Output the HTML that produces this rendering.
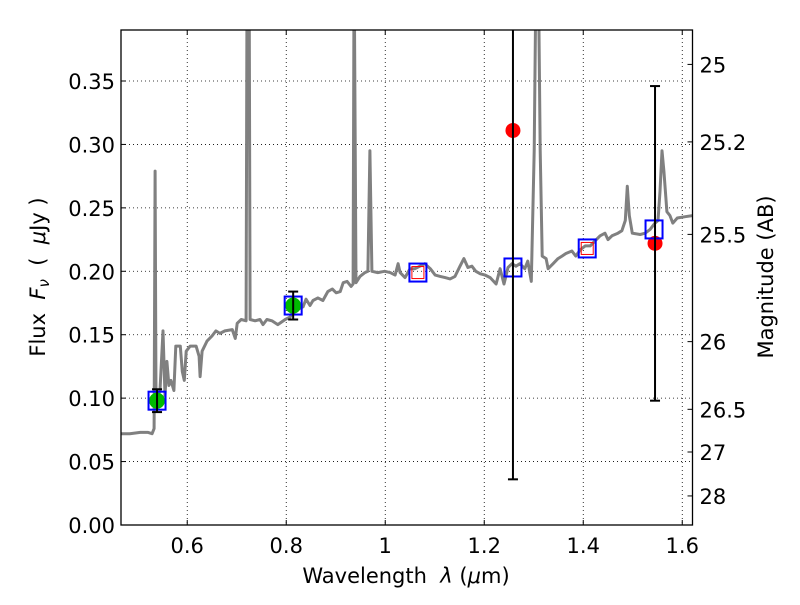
<!DOCTYPE html>
<html><head><meta charset="utf-8"><style>
html,body{margin:0;padding:0;background:#fff;}
svg text{font-family:"DejaVu Sans","Liberation Sans",sans-serif;white-space:pre;}
</style></head><body>
<svg id="chart" width="800" height="600" xmlns="http://www.w3.org/2000/svg" xml:space="preserve">
<defs><clipPath id="clip"><rect x="121" y="30" width="571.5" height="495"/></clipPath></defs>
<rect width="800" height="600" fill="#fff"/>
<g id="grid"></g>
<g id="plot" clip-path="url(#clip)"></g>
<rect x="121" y="30" width="571.5" height="495" fill="none" stroke="#000" stroke-width="1.3"/>
<g id="ticks"></g>
<text x="406" y="583" font-size="21" text-anchor="middle">Wavelength  <tspan font-style="italic">λ</tspan> (<tspan font-style="italic">μ</tspan>m)</text>
<text transform="translate(45,277) rotate(-90)" font-size="21" text-anchor="middle">Flux  <tspan font-style="italic">F<tspan font-size="15" dy="4">ν</tspan></tspan><tspan dy="-4">  (  </tspan><tspan font-style="italic">μ</tspan>Jy )</text>
<text transform="translate(773,277) rotate(-90)" font-size="21" text-anchor="middle">Magnitude (AB)</text>
</svg>
<script>
const specLam=[0.466,0.484,0.505,0.521,0.529,0.533,0.535,0.537,0.539,0.545,0.551,0.555,0.559,0.563,0.567,0.573,0.577,0.586,0.590,0.594,0.598,0.606,0.618,0.624,0.626,0.630,0.640,0.650,0.658,0.666,0.676,0.691,0.697,0.701,0.709,0.719,0.721,0.725,0.727,0.737,0.747,0.753,0.761,0.771,0.783,0.798,0.808,0.814,0.824,0.834,0.840,0.848,0.854,0.864,0.874,0.884,0.893,0.901,0.909,0.915,0.923,0.931,0.935,0.937,0.941,0.949,0.959,0.965,0.969,0.973,0.985,0.999,1.010,1.020,1.026,1.030,1.040,1.050,1.060,1.070,1.080,1.091,1.101,1.111,1.121,1.131,1.141,1.151,1.159,1.167,1.175,1.183,1.192,1.202,1.212,1.224,1.232,1.240,1.248,1.256,1.264,1.272,1.282,1.288,1.295,1.301,1.305,1.309,1.313,1.317,1.325,1.329,1.339,1.349,1.357,1.365,1.377,1.385,1.394,1.404,1.414,1.424,1.434,1.444,1.450,1.458,1.470,1.478,1.485,1.489,1.493,1.499,1.515,1.525,1.535,1.545,1.551,1.555,1.559,1.563,1.569,1.575,1.581,1.590,1.606,1.622];
const specFlux=[0.072,0.072,0.073,0.073,0.072,0.076,0.279,0.098,0.100,0.106,0.153,0.102,0.129,0.110,0.114,0.106,0.141,0.141,0.121,0.114,0.137,0.141,0.141,0.133,0.117,0.137,0.145,0.149,0.153,0.151,0.153,0.154,0.147,0.159,0.162,0.161,0.45,0.45,0.162,0.161,0.162,0.158,0.162,0.161,0.158,0.162,0.164,0.169,0.170,0.172,0.178,0.173,0.177,0.179,0.177,0.184,0.186,0.183,0.184,0.191,0.192,0.188,0.190,0.45,0.191,0.196,0.199,0.200,0.295,0.200,0.199,0.200,0.199,0.197,0.206,0.199,0.195,0.202,0.202,0.204,0.206,0.202,0.197,0.196,0.195,0.194,0.196,0.204,0.210,0.203,0.204,0.200,0.198,0.197,0.195,0.190,0.202,0.190,0.203,0.206,0.204,0.206,0.202,0.208,0.192,0.295,0.45,0.45,0.295,0.212,0.210,0.202,0.206,0.210,0.212,0.214,0.216,0.212,0.217,0.220,0.220,0.224,0.228,0.230,0.225,0.228,0.230,0.232,0.240,0.267,0.244,0.230,0.229,0.230,0.233,0.238,0.240,0.263,0.295,0.279,0.247,0.244,0.238,0.242,0.243,0.244];
const modelLam=[0.539,0.814,1.066,1.258,1.408,1.543];
const modelFlux=[0.098,0.173,0.199,0.203,0.218,0.233];
const detLam=[0.539,0.814];
const detFlux=[0.098,0.173];
const detErr=[0.009,0.011];
const upLam=[1.258,1.545];
const upFlux=[0.311,0.222];
const upErr=[0.275,0.124];
const redSqLam=[1.066,1.408];
const redSqFlux=[0.199,0.218];
const xTicks=[0.6,0.8,1.0,1.2,1.4,1.6];
const xTickLabels=["0.6","0.8","1","1.2","1.4","1.6"];
const yTicks=[0,0.05,0.10,0.15,0.20,0.25,0.30,0.35];
const yTickLabels=["0.00","0.05","0.10","0.15","0.20","0.25","0.30","0.35"];
const magTicks=[25,25.2,25.5,26,26.5,27,28];
const magTickLabels=["25","25.2","25.5","26","26.5","27","28"];

const NS="http://www.w3.org/2000/svg";
const X0=121,X1=692.5,Y0=525,Y1=30,LMIN=0.4662,LMAX=1.6207,FMIN=0,FMAX=0.3902;
function xs(l){return X0+(l-LMIN)/(LMAX-LMIN)*(X1-X0);}
function ys(f){return Y0-(f-FMIN)/(FMAX-FMIN)*(Y0-Y1);}
function magToFlux(m){return Math.pow(10,(23.9-m)/2.5);}
function mk(tag,attrs,parent){const e=document.createElementNS(NS,tag);for(const k in attrs)e.setAttribute(k,attrs[k]);parent.appendChild(e);return e;}
const grid=document.getElementById('grid'),plot=document.getElementById('plot'),ticks=document.getElementById('ticks');

xTicks.forEach((v,i)=>{const x=xs(v);
 let g=mk('line',{x1:x,x2:x,y1:Y1,y2:Y0,stroke:'#000','stroke-width':0.8,'stroke-dasharray':'1,3'},grid);
 
 
 mk('line',{x1:x,x2:x,y1:Y0,y2:Y0-5,stroke:'#000'},ticks);
 mk('line',{x1:x,x2:x,y1:Y1,y2:Y1+5,stroke:'#000'},ticks);
 let t=mk('text',{x:x,y:Y0+28,'font-size':21,'text-anchor':'middle'},ticks);t.textContent=xTickLabels[i];
 
 
});
yTicks.forEach((v,i)=>{const y=ys(v);
 let g=mk('line',{x1:X0,x2:X1,y1:y,y2:y,stroke:'#000','stroke-width':0.8,'stroke-dasharray':'1,3'},grid);
 
 
 mk('line',{x1:X0,x2:X0+5,y1:y,y2:y,stroke:'#000'},ticks);
 let t=mk('text',{x:X0-6,y:y+8,'font-size':21,'text-anchor':'end'},ticks);t.textContent=yTickLabels[i];
 
 
});
magTicks.forEach((m,i)=>{const y=ys(magToFlux(m));
 mk('line',{x1:X1,x2:X1-5,y1:y,y2:y,stroke:'#000'},ticks);
 let t=mk('text',{x:X1+7,y:y+8,'font-size':21,'text-anchor':'start'},ticks);t.textContent=magTickLabels[i];
 
 
});

let d='';specLam.forEach((l,i)=>{d+=(i?'L':'M')+xs(l).toFixed(1)+','+ys(specFlux[i]).toFixed(1);});
const sp=mk('path',{d:d,fill:'none',stroke:'#808080','stroke-width':3,'stroke-linejoin':'round'},plot);



function errbar(l,f,e,name){const x=xs(l),ya=ys(f+e),yb=ys(f-e);
 const g=mk('g',{},plot);
 
 
 mk('line',{x1:x,x2:x,y1:ya,y2:yb,stroke:'#000','stroke-width':2},g);
 mk('line',{x1:x-5,x2:x+5,y1:ya,y2:ya,stroke:'#000','stroke-width':2},g);
 mk('line',{x1:x-5,x2:x+5,y1:yb,y2:yb,stroke:'#000','stroke-width':2},g);}

detLam.forEach((l,i)=>{const c=mk('circle',{cx:xs(l),cy:ys(detFlux[i]),r:8,fill:'#00bb00'},plot);
 
 });
upLam.forEach((l,i)=>{const c=mk('circle',{cx:xs(l),cy:ys(upFlux[i]),r:7.5,fill:'#ff0000'},plot);
 
 });
redSqLam.forEach((l,i)=>{const r=mk('rect',{x:xs(l)-6,y:ys(redSqFlux[i])-6,width:12,height:12,fill:'none',stroke:'#ff0000','stroke-width':1},plot);
 
 });
modelLam.forEach((l,i)=>{const r=mk('rect',{x:xs(l)-8.5,y:ys(modelFlux[i])-9,width:17,height:18,fill:'none',stroke:'#0000ff','stroke-width':2},plot);
 
 });
detLam.forEach((l,i)=>errbar(l,detFlux[i],detErr[i],'detection-errorbar'));
upLam.forEach((l,i)=>errbar(l,upFlux[i],upErr[i],'low-snr-errorbar'));
</script>
</body></html>
